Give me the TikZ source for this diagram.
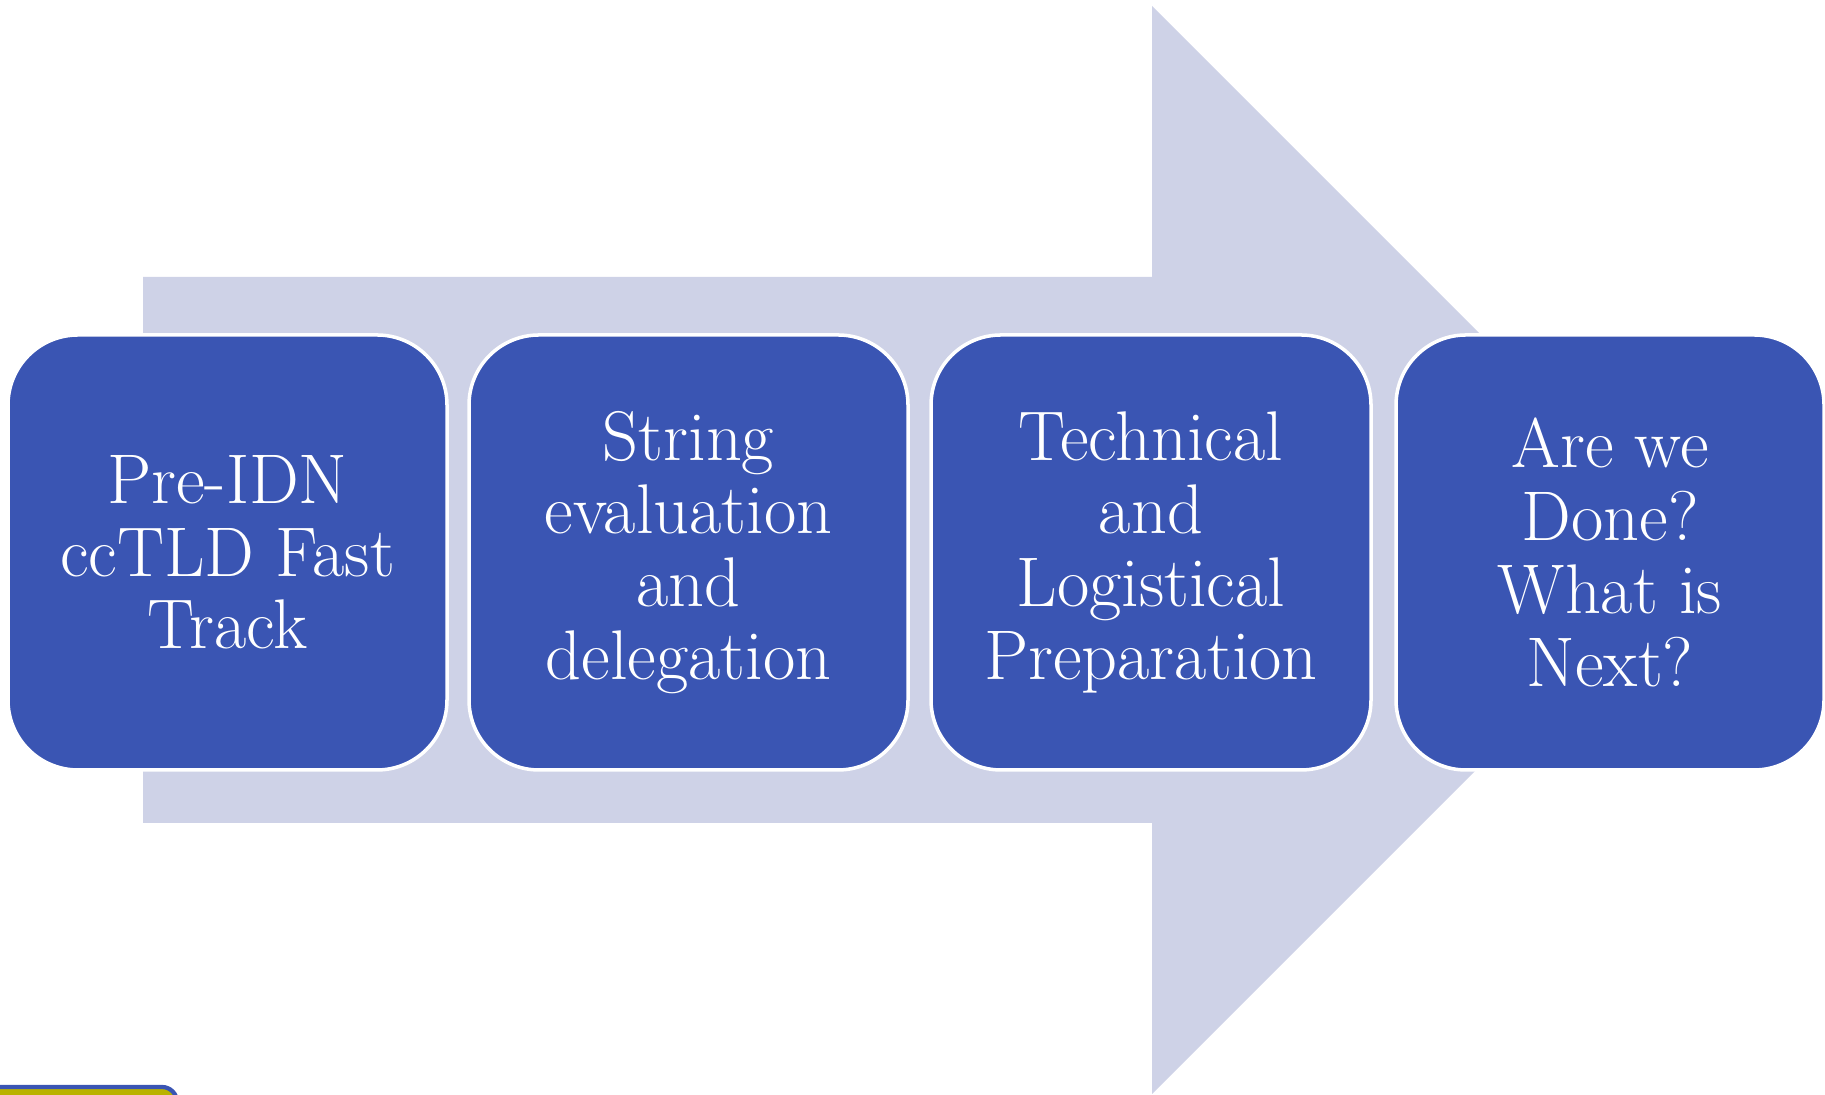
\documentclass[tikz,border=0pt]{standalone}
\usepackage{tikz}

\definecolor{stageblue}{RGB}{58,85,179}
\definecolor{shaftgrey}{RGB}{206,210,231}
\definecolor{tabyellow}{RGB}{186,178,0}

\begin{document}
\begin{tikzpicture}
    %
    % `stagebox' is used for the four rounded blue boxes.
    % `backarrow' is used for the big arrow behind them.
    \tikzstyle{stagebox} = [draw=white,line width=1pt,fill=stageblue,rounded corners=7mm,minimum height=4.35cm,inner sep=0pt,align=center,text=white,font=\fontsize{20}{20.7}\selectfont]
    \tikzstyle{backarrow} = [fill=shaftgrey]
    %
    % Frame
    \useasboundingbox (0,0) rectangle (18.25,10.95);
    \clip (0,0) rectangle (18.25,10.95);
    %
    % Arrow
    \fill[backarrow] (1.43,2.72) -- (1.43,8.18) -- (11.52,8.18) -- (11.52,10.89)
        -- (16.96,5.45) -- (11.52,0.01) -- (11.52,2.72) -- cycle;
    %
    % Tab at the corner
    \draw[line width=1.2pt,draw=stageblue,fill=tabyellow,rounded corners=1.5mm] (-0.5,-0.5) rectangle (1.77,0.08);
    %
    % Stages
    \node[stagebox,minimum width=4.39cm] (stage1) at (2.275,5.425) {Pre-IDN\\ccTLD Fast\\Track};
    \node[stagebox,minimum width=4.39cm] (stage2) at (6.885,5.425) {String\\evaluation\\and\\delegation};
    \node[stagebox,minimum width=4.40cm] (stage3) at (11.51,5.425) {Technical\\and\\Logistical\\Preparation};
    \node[stagebox,minimum width=4.28cm] (stage4) at (16.10,5.425) {Are we\\Done?\\What is\\Next?};
    %
\end{tikzpicture}
\end{document}
